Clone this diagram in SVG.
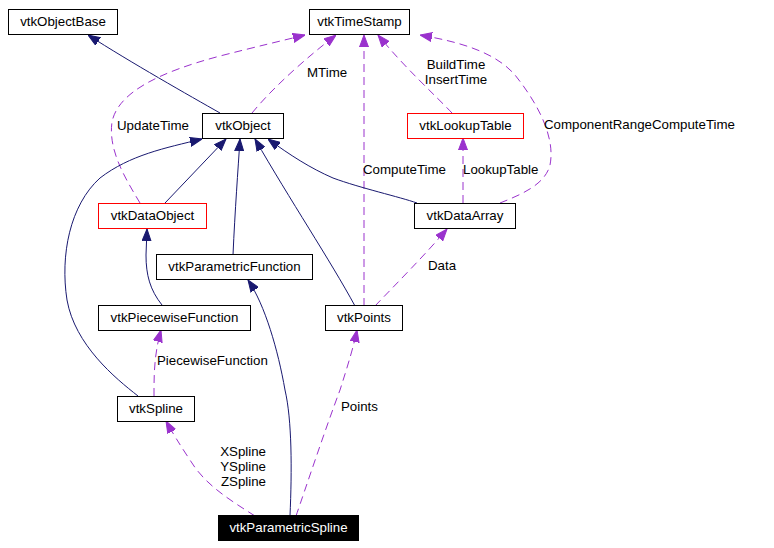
<svg xmlns="http://www.w3.org/2000/svg" width="774" height="548" viewBox="0 0 774 548">
<style>
text{font-family:"Liberation Sans",Arial,sans-serif;font-size:13.3px;fill:#000}
.n rect{fill:#fff;stroke:#000;stroke-width:1}
.n.red rect{stroke:#ff0000}
.n text{text-anchor:middle}
.n.blk rect{fill:#000}
.n.blk text{fill:#fff}
.s{fill:none;stroke:#191970;stroke-width:1;marker-end:url(#an)}
.d{fill:none;stroke:#9a32cd;stroke-width:1;stroke-dasharray:8,5;marker-end:url(#ap)}
</style>
<defs>
<marker id="an" markerUnits="userSpaceOnUse" viewBox="0 -5 12 10" refX="12" refY="0" markerWidth="12" markerHeight="10" orient="auto"><path d="M0,-4.5 L12,0 L0,4.5 z" fill="#191970" stroke="#191970"/></marker>
<marker id="ap" markerUnits="userSpaceOnUse" viewBox="0 -5 12 10" refX="12" refY="0" markerWidth="12" markerHeight="10" orient="auto"><path d="M0,-4.5 L12,0 L0,4.5 z" fill="#9a32cd" stroke="#9a32cd"/></marker>
</defs>
<rect width="774" height="548" fill="#fff"/>
<g id="edges">
<path class="s" d="M220,113 C190,96 130,62 88,35"/>
<path class="d" d="M140,203 C125,178 108,150 112,122 C118,92 160,72 220,56 C255,47 285,40 305,35"/>
<path class="d" d="M252,113 C275,85 310,55 336,35"/>
<path class="d" d="M364,306 L364,35"/>
<path class="d" d="M452,113 C435,95 405,68 378,35"/>
<path class="d" d="M500,203 C520,195 545,185 550,165 C556,135 535,100 515,75 C495,52 460,42 420,35"/>
<path class="s" d="M138,396 C115,378 75,345 67,300 C60,255 70,205 100,178 C130,155 165,148 202,139"/>
<path class="s" d="M165,203 L226,139"/>
<path class="s" d="M233,255 C235,210 238,170 240,139"/>
<path class="s" d="M355,306 C330,260 290,200 255,139"/>
<path class="s" d="M417,203 C400,197 360,188 333,178 C310,168 290,155 268,139"/>
<path class="d" d="M463,203 L463,138"/>
<path class="d" d="M375,306 C395,285 425,255 447,229"/>
<path class="s" d="M162,305 C150,290 146,275 146,255 L147,229"/>
<path class="s" d="M290,516 C292,470 292,420 285,390 C278,350 265,305 248,280"/>
<path class="d" d="M154,396 C154,375 154,355 161,330"/>
<path class="d" d="M255,516 C230,500 205,485 190,460 C180,445 172,432 166,421"/>
<path class="d" d="M296,516 C305,490 325,430 340,390 C348,365 354,345 357,330"/>
<text x="117" y="130">UpdateTime</text>
<text x="307" y="77">MTime</text>
<text x="363" y="174">ComputeTime</text>
<text x="456" y="69" text-anchor="middle">BuildTime</text>
<text x="456" y="84" text-anchor="middle">InsertTime</text>
<text x="544" y="129">ComponentRangeComputeTime</text>
<text x="463" y="174">LookupTable</text>
<text x="428" y="270">Data</text>
<text x="157" y="365">PiecewiseFunction</text>
<text x="341" y="411">Points</text>
<text x="266" y="456" text-anchor="end">XSpline</text>
<text x="266" y="471" text-anchor="end">YSpline</text>
<text x="266" y="486" text-anchor="end">ZSpline</text>
</g>
<g id="vtkObjectBase" class="n"><rect x="8.5" y="9.5" width="109" height="25"/><text x="63" y="26">vtkObjectBase</text></g>
<g id="vtkTimeStamp" class="n"><rect x="309.5" y="9.5" width="100" height="25"/><text x="359.5" y="26">vtkTimeStamp</text></g>
<g id="vtkObject" class="n"><rect x="202.5" y="113.5" width="81" height="25"/><text x="243" y="130">vtkObject</text></g>
<g id="vtkLookupTable" class="n red"><rect x="407.5" y="113.5" width="116" height="25"/><text x="465.5" y="130">vtkLookupTable</text></g>
<g id="vtkDataArray" class="n"><rect x="414.5" y="203.5" width="101" height="25"/><text x="465" y="220">vtkDataArray</text></g>
<g id="vtkDataObject" class="n red"><rect x="98.5" y="203.5" width="108" height="25"/><text x="152.5" y="220">vtkDataObject</text></g>
<g id="vtkParametricFunction" class="n"><rect x="156.5" y="254.5" width="156" height="25"/><text x="234.5" y="271">vtkParametricFunction</text></g>
<g id="vtkPiecewiseFunction" class="n"><rect x="98.5" y="305.5" width="152" height="25"/><text x="174.5" y="322">vtkPiecewiseFunction</text></g>
<g id="vtkPoints" class="n"><rect x="325.5" y="305.5" width="77" height="25"/><text x="364" y="322">vtkPoints</text></g>
<g id="vtkSpline" class="n"><rect x="117.5" y="396.5" width="77" height="25"/><text x="156" y="413">vtkSpline</text></g>
<g id="vtkParametricSpline" class="n blk"><rect x="218.5" y="515.5" width="140" height="25"/><text x="288.5" y="532">vtkParametricSpline</text></g>
</svg>
